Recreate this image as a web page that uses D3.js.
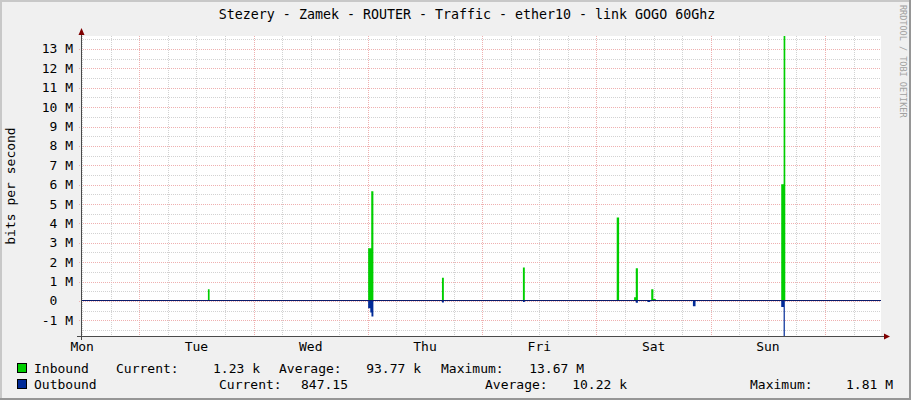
<!DOCTYPE html>
<html><head><meta charset="utf-8">
<script src="https://cdn.jsdelivr.net/npm/d3@7"></script>
<style>
html,body{margin:0;padding:0;background:#f0f0f0;}
svg text{font-family:"DejaVu Sans Mono",monospace;white-space:pre;}
</style></head>
<body>
<svg id="chart" width="911" height="400"></svg>
<script>
// ---- data ----
const title = "Stezery - Zamek - ROUTER - Traffic - ether10 - link GOGO 60Ghz";
const yAxisTitle = "bits per second";
const days = ["Mon","Tue","Wed","Thu","Fri","Sat","Sun"];
const dayNoonHours = [12,36,60,84,108,132,156];         // hours since Monday 00:00
const yTickValues = [-1e6,0,1e6,2e6,3e6,4e6,5e6,6e6,7e6,8e6,9e6,10e6,11e6,12e6,13e6];
const yTickLabels = ["-1 M","0  ","1 M","2 M","3 M","4 M","5 M","6 M","7 M","8 M","9 M","10 M","11 M","12 M","13 M"];
const timeStart = 11.75, timeEnd = 179.75;                // hours since Monday 00:00
// Inbound (bits/s), step values starting at each time
const inTimes = [11.75, 38.4, 38.75, 72.05, 72.7, 73.15, 87.55, 87.95, 104.55, 104.95, 124.25, 124.75, 127.9, 128.25, 128.7, 131.5, 131.95, 132.45, 158.8, 159.3, 159.65, 179.75];
const inBits  = [0, 0.6e6, 0, 2.72e6, 5.66e6, 0, 1.2e6, 0, 1.73e6, 0, 4.31e6, 0, 0.19e6, 1.68e6, 0, 0.6e6, 0.1e6, 0, 6.02e6, 13.67e6, 0, 0];
// Outbound (bits/s), drawn below zero
const outTimes = [11.75, 72.05, 72.5, 72.75, 73.15, 87.55, 87.95, 104.55, 104.95, 128.25, 128.7, 130.7, 131.3, 140.25, 140.8, 158.8, 159.3, 159.55, 179.75];
const outBits  = [0, 0.38e6, 0.6e6, 0.81e6, 0, 0.08e6, 0, 0.06e6, 0, 0.1e6, 0, 0.06e6, 0, 0.27e6, 0, 0.31e6, 1.81e6, 0, 0];
const seriesNames = ["Inbound","Outbound"];
const seriesColors = ["#00cf00","#002a97"];
const currentVals = ["1.23 k","847.15"];
const averageVals = ["93.77 k","10.22 k"];
const maximumVals = ["13.67 M","1.81 M"];
const yMin = -1.81e6, yMax = 13.67e6;

// ---- drawing ----
const svg = d3.select("#chart");
const W = 911, H = 400;
const L = 81, R = 881, T = 36, B = 336;

svg.append("rect").attr("width",W).attr("height",H).attr("fill","#f0f0f0");
// 3D frame
svg.append("rect").attr("x",0).attr("y",0).attr("width",W).attr("height",2).attr("fill","#c8c8c8");
svg.append("rect").attr("x",0).attr("y",0).attr("width",2).attr("height",H).attr("fill","#c8c8c8");
svg.append("rect").attr("x",0).attr("y",H-2).attr("width",W).attr("height",2).attr("fill","#969696");
svg.append("rect").attr("x",W-2).attr("y",0).attr("width",2).attr("height",H).attr("fill","#969696");

const x = d3.scaleLinear().domain([timeStart,timeEnd]).range([L,R]);
const y = d3.scaleLinear().domain([yMin,yMax]).range([B,T]);

svg.append("rect").attr("x",L).attr("y",T).attr("width",R-L).attr("height",B-T).attr("fill","#ffffff");

const grid = svg.append("g");
const minorCol = "#d2d2d2", majorCol = "#efb0b0";
// horizontal minor (half M)
const halfTicks = d3.range(Math.ceil(yMin/5e5), Math.floor(yMax/5e5)+1).map(k=>k*5e5).filter(v=>v%1e6!==0);
grid.selectAll(".hm").data(halfTicks).join("line")
  .attr("x1",L).attr("x2",R).attr("y1",d=>Math.round(y(d))+0.5).attr("y2",d=>Math.round(y(d))+0.5)
  .attr("stroke",minorCol).attr("stroke-dasharray","1,1");
// vertical grid every 6h
const vTicks = d3.range(Math.ceil(timeStart/6), Math.floor(timeEnd/6)+1).map(k=>k*6);
grid.selectAll(".vm").data(vTicks.filter(t=>t%24!==0)).join("line")
  .attr("y1",T).attr("y2",B+2).attr("x1",d=>Math.round(x(d))+0.5).attr("x2",d=>Math.round(x(d))+0.5)
  .attr("stroke",minorCol).attr("stroke-dasharray","1,1");
grid.selectAll(".vM").data(vTicks.filter(t=>t%24===0)).join("line")
  .attr("y1",T).attr("y2",B+2).attr("x1",d=>Math.round(x(d))+0.5).attr("x2",d=>Math.round(x(d))+0.5)
  .attr("stroke",majorCol).attr("stroke-dasharray","1,1");
// horizontal major
grid.selectAll(".hM").data(yTickValues).join("line")
  .attr("x1",L-2).attr("x2",R).attr("y1",d=>Math.round(y(d))+0.5).attr("y2",d=>Math.round(y(d))+0.5)
  .attr("stroke",majorCol).attr("stroke-dasharray","1,1");

// areas
const inData = inTimes.map((t,i)=>({t, v: inBits[i]}));
const outData = outTimes.map((t,i)=>({t, v: -outBits[i]}));
const area = d3.area().x(d=>x(d.t)).y0(y(0)).y1(d=>y(d.v)).curve(d3.curveStepAfter);
svg.append("path").datum(inData).attr("d",area).attr("fill",seriesColors[0]);
svg.append("path").datum(outData).attr("d",area).attr("fill",seriesColors[1]);
// zero line
const y0px = Math.floor(y(0))+0.5;
svg.append("line").attr("x1",L).attr("x2",R).attr("y1",y0px).attr("y2",y0px)
  .attr("stroke","#0a1a6a").attr("stroke-width",1.2);

// axes
svg.append("line").attr("x1",L+0.5).attr("x2",L+0.5).attr("y1",31).attr("y2",B+4).attr("stroke","#4a4a4a");
svg.append("line").attr("x1",L-4).attr("x2",R+4).attr("y1",B+0.5).attr("y2",B+0.5).attr("stroke","#4a4a4a");
svg.append("path").attr("d",`M${L-2.5},35 L${L+3.5},35 L${L+0.5},28 Z`).attr("fill","#7f0000");
svg.append("path").attr("d",`M${R+3},${B-2.5} L${R+3},${B+3.5} L${R+9},${B+0.5} Z`).attr("fill","#7f0000");

// y labels
svg.selectAll(".yl").data(yTickValues).join("text")
  .attr("x",73).attr("y",d=>y(d)+4.5).attr("text-anchor","end")
  .attr("font-size",13).attr("fill","#000").text((d,i)=>yTickLabels[i]);
// day labels
svg.selectAll(".dl").data(days).join("text")
  .attr("x",(d,i)=>x(dayNoonHours[i])).attr("y",351).attr("text-anchor","middle")
  .attr("font-size",13).attr("fill","#000").text(d=>d);
// title
svg.append("text").attr("x",467).attr("y",19).attr("text-anchor","middle")
  .attr("font-size",13.3).attr("fill","#000").text(title);
// y axis title
svg.append("text").attr("transform","translate(15,186) rotate(-90)").attr("text-anchor","middle")
  .attr("font-size",13).attr("fill","#000").text(yAxisTitle);
// watermark
svg.append("text").attr("transform","translate(900,5) rotate(90)").attr("font-size",8.5)
  .attr("fill","#a0a0a0").text("RRDTOOL / TOBI OETIKER");

// legend
const rows = [
  {y:373, cur:[116,260], avg:[279,421], max:[441,584]},
  {y:389, cur:[219,348], avg:[485,627], max:[750,893]}
];
rows.forEach((r,i)=>{
  svg.append("rect").attr("x",17.5).attr("y",r.y-9.5).attr("width",9).attr("height",9)
    .attr("fill",seriesColors[i]).attr("stroke","#000");
  const tx = (xx,s,anchor)=>svg.append("text").attr("x",xx).attr("y",r.y).attr("font-size",13)
    .attr("text-anchor",anchor||"start").attr("fill","#000").text(s);
  tx(34, seriesNames[i]);
  tx(r.cur[0],"Current:"); tx(r.cur[1], currentVals[i], "end");
  tx(r.avg[0],"Average:"); tx(r.avg[1], averageVals[i], "end");
  tx(r.max[0],"Maximum:"); tx(r.max[1], maximumVals[i], "end");
});
</script>
</body></html>
